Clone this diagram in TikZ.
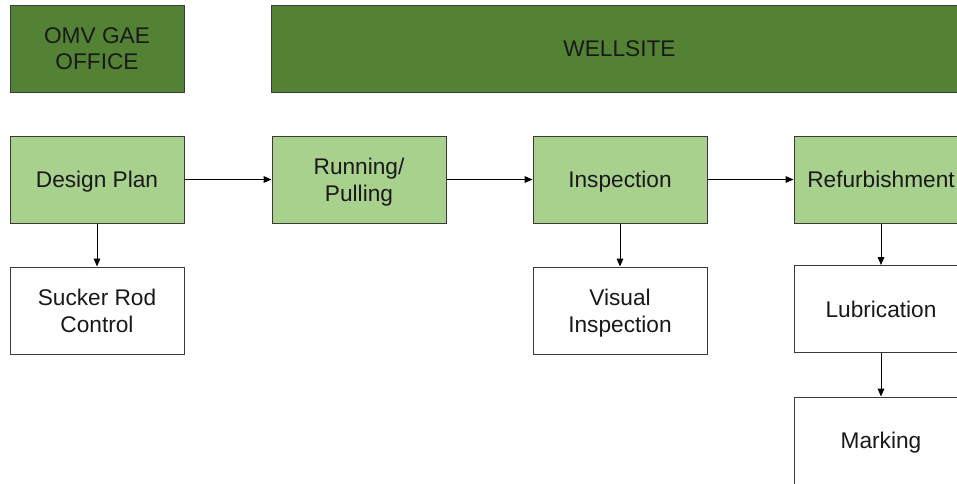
\documentclass[tikz,border=0pt]{standalone}
\usepackage{fontspec}
\setmainfont{Liberation Sans}
\usetikzlibrary{arrows.meta}
\definecolor{darkgreen}{HTML}{548235}
\definecolor{lightgreen}{HTML}{A9D18E}
\definecolor{edgegray}{HTML}{3A3A3A}
\begin{document}
\begin{tikzpicture}[x=0.75pt,y=-0.75pt,
  box/.style={draw=edgegray, line width=0.75pt, minimum width=130.5pt, minimum height=65.25pt,
    inner sep=0pt, align=center, text depth=0pt,
    font=\fontsize{17}{20}\selectfont, text=black!90},
  header/.style={box, fill=darkgreen},
  stage/.style={box, fill=lightgreen},
  task/.style={box, fill=white},
  flow/.style={line width=0.75pt, -{Triangle[length=6pt,width=5pt]}}]
\useasboundingbox (0,0) rectangle (957,483);
\clip (0,0) rectangle (957,483);

% headers
\node[header] (office) at (97,48.5) {OMV GAE\\OFFICE};
\node[header, minimum width=522.75pt] (wellsite) at (619.5,48.5) {WELLSITE};

% main stages
\node[stage] (design) at (97,179.5) {Design Plan};
\node[stage] (running) at (359,179.5) {Running/\\Pulling};
\node[stage] (inspect) at (620,179.5) {Inspection};
\node[stage] (refurb) at (881,179.5) {Refurbishment};

% sub tasks
\node[task] (sucker) at (97,310.5) {Sucker Rod\\Control};
\node[task] (visual) at (620,310.5) {Visual\\Inspection};
\node[task] (lube) at (881,309) {Lubrication};
\node[task] (mark) at (881,440.5) {Marking};

% connectors
\draw[flow] (design) -- (running);
\draw[flow] (running) -- (inspect);
\draw[flow] (inspect) -- (refurb);
\draw[flow] (design) -- (sucker);
\draw[flow] (inspect) -- (visual);
\draw[flow] (refurb) -- (lube);
\draw[flow] (lube) -- (mark);
\end{tikzpicture}
\end{document}
